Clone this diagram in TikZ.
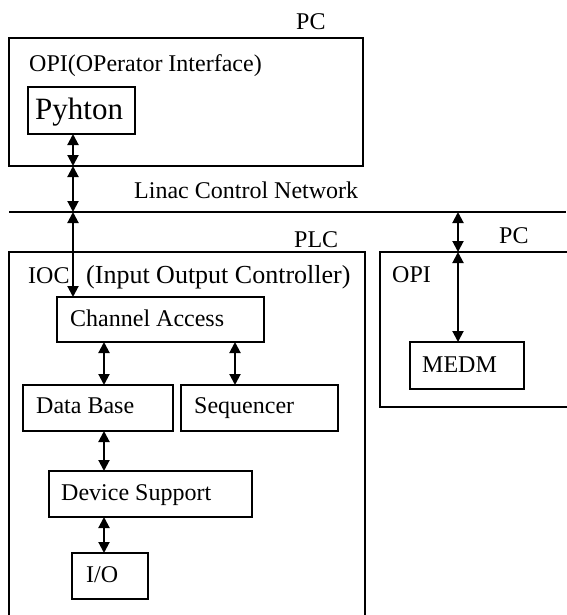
\documentclass[tikz,border=0pt]{standalone}
\usepackage{fontspec}
\setmainfont{Liberation Serif}
\usetikzlibrary{arrows.meta}
\begin{document}
\begin{tikzpicture}[x=1pt,y=-1pt,
  box/.style={draw, line width=2pt, inner sep=0pt, outer sep=0pt, anchor=north west},
  lbl/.style={anchor=base west, inner sep=0pt, font=\fontsize{24}{28}\selectfont},
  dbl/.style={line width=2pt, {Triangle[length=11pt,width=11pt]}-{Triangle[length=11pt,width=11pt]}},
  frame/.style={line width=2pt}]
\useasboundingbox (0,0) rectangle (566,615);
% column coordinates
\coordinate (cx1) at (73,0);
\coordinate (cx2) at (458,0);
\coordinate (cx3) at (104,0);
\coordinate (cx4) at (235,0);
% network line
\coordinate (netL) at (9,212);
\coordinate (netR) at (566,212);
\draw[frame] (netL) -- (netR);
\coordinate (n1) at (73,212);
\coordinate (n2) at (458,212);
% PC (top) box
\node[box, minimum width=354pt, minimum height=128pt] (pc) at (9,38) {};
\node[lbl] (pclbl) at (296,30) {PC};
\node[lbl] (opilbl) at (29,72) {OPI(OPerator Interface)};
\node[box, minimum width=107pt, minimum height=47pt] (pyh) at (28,87) {};
\node[lbl, font=\fontsize{31}{36}\selectfont] (pyhlbl) at (35,120) {Pyhton};
\node[lbl] (netlbl) at (134,198) {Linac Control Network};
% PLC box (open at bottom)
\coordinate (plcBL) at (9,620);
\coordinate (plcTL) at (9,252);
\coordinate (plcTR) at (365,252);
\coordinate (plcBR) at (365,620);
\draw[frame] (plcBL) -- (plcTL) -- (plcTR) -- (plcBR);
\node[lbl] (plclbl) at (294,247) {PLC};
\node[lbl] (ioclbl) at (28,283) {IOC};
\node[lbl, font=\fontsize{26}{30}\selectfont] (ioctxt) at (86,283) {(Input Output Controller)};
% right OPI box (open at right)
\coordinate (opBR) at (570,407);
\coordinate (opBL) at (380,407);
\coordinate (opTL) at (380,252);
\coordinate (opTR) at (570,252);
\draw[frame] (opBR) -- (opBL) -- (opTL) -- (opTR);
\coordinate (o1) at (458,252);
\node[lbl] (pc2lbl) at (499,243) {PC};
\node[lbl] (opi2lbl) at (392,282) {OPI};
\node[box, minimum width=114pt, minimum height=47pt] (medm) at (410,342) {};
\node[lbl] (medmlbl) at (422,372) {MEDM};
% IOC inner boxes
\node[box, minimum width=207pt, minimum height=45pt] (ca) at (57,297) {};
\node[lbl] (calbl) at (70,326) {Channel Access};
\node[box, minimum width=150pt, minimum height=46pt] (db) at (23,385) {};
\node[lbl] (dblbl) at (36,413) {Data Base};
\node[box, minimum width=157pt, minimum height=46pt] (seq) at (181,385) {};
\node[lbl] (seqlbl) at (194,413) {Sequencer};
\node[box, minimum width=203pt, minimum height=46pt] (ds) at (49,471) {};
\node[lbl] (dslbl) at (61,500) {Device Support};
\node[box, minimum width=76pt, minimum height=46pt] (io) at (72,553) {};
\node[lbl] (iolbl) at (86,582) {I/O};
% arrows
\draw[dbl] (pyh.south -| cx1) -- (pc.south -| cx1);
\draw[dbl] (pc.south -| cx1) -- (n1);
\draw[dbl] (n1) -- (ca.north -| cx1);
\draw[dbl] (n2) -- (o1);
\draw[dbl] (o1) -- (medm.north -| cx2);
\draw[dbl] (ca.south -| cx3) -- (db.north -| cx3);
\draw[dbl] (ca.south -| cx4) -- (seq.north -| cx4);
\draw[dbl] (db.south -| cx3) -- (ds.north -| cx3);
\draw[dbl] (ds.south -| cx3) -- (io.north -| cx3);
\end{tikzpicture}
\end{document}
